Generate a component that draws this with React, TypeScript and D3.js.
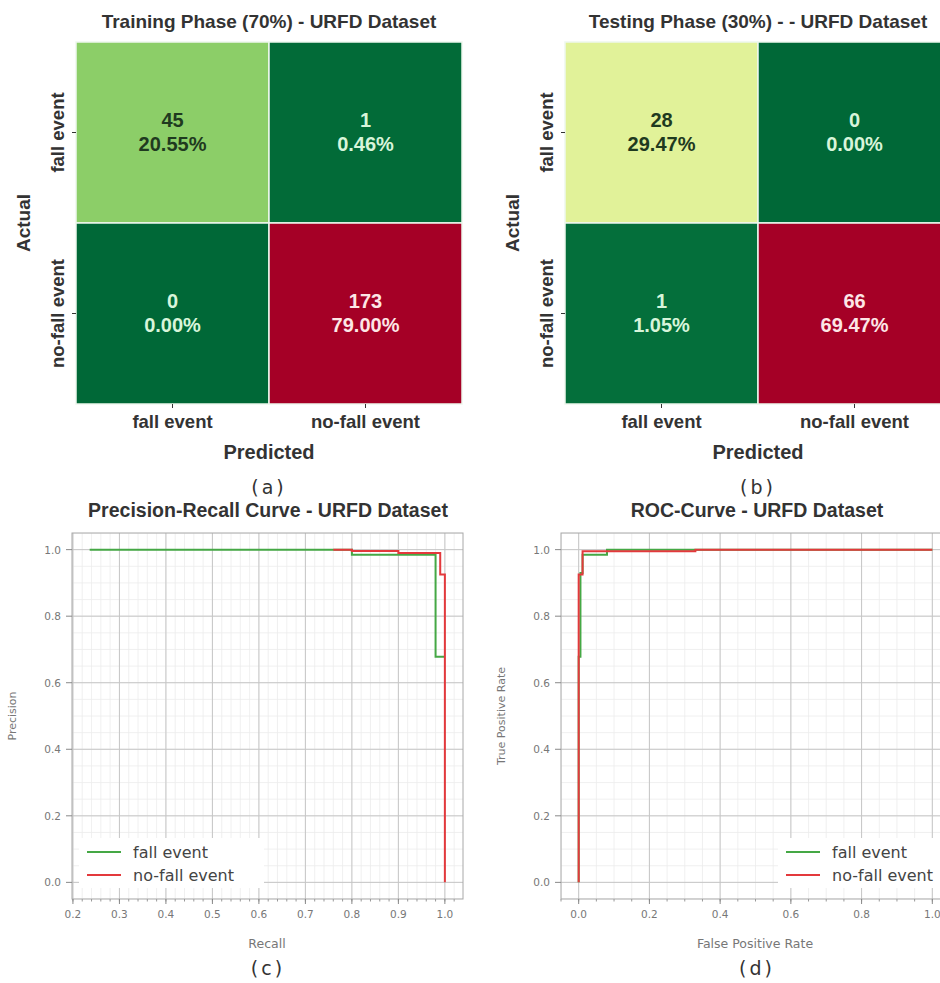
import React from "react";
import * as d3 from "d3";

// confusion matrices (rows = actual, cols = predicted)
const classLabels = ["fall event", "no-fall event"];
const trainMatrix = [[45, 1], [0, 173]];
const testMatrix = [[28, 0], [1, 66]];

// precision-recall curve points
const prRecallFall = [0.236, 0.8, 0.8, 0.98, 0.98, 1.0];
const prPrecisionFall = [1.0, 1.0, 0.985, 0.985, 0.678, 0.678];
const prRecallNoFall = [0.76, 0.8, 0.8, 0.9, 0.9, 0.99, 0.99, 1.0, 1.0];
const prPrecisionNoFall = [1.0, 1.0, 0.996, 0.996, 0.99, 0.99, 0.925, 0.925, 0.0];

// roc curve points
const rocFprFall = [0, 0, 0.005, 0.005, 0.011, 0.011, 0.08, 0.08, 1.0];
const rocTprFall = [0, 0.678, 0.678, 0.93, 0.93, 0.985, 0.985, 1.0, 1.0];
const rocFprNoFall = [0, 0, 0.011, 0.011, 0.33, 0.33, 1.0];
const rocTprNoFall = [0, 0.925, 0.925, 0.995, 0.995, 1.0, 1.0];

const prXTicks = [0.2, 0.3, 0.4, 0.5, 0.6, 0.7, 0.8, 0.9, 1.0];
const rateTicks = [0.0, 0.2, 0.4, 0.6, 0.8, 1.0];

const GREEN = "#45a845";
const RED = "#e3393c";
const BOLD = "'Liberation Sans', Arial, sans-serif";
const PLAIN = "'DejaVu Sans', sans-serif";

function Heatmap({ matrix, x0, x1, y0, y1, title, tag }) {
  const total = d3.sum(matrix.flat());
  const max = d3.max(matrix.flat());
  const color = d3.scaleSequential((t) => d3.interpolateRdYlGn(1 - t)).domain([0, max]);
  const xs = d3.scaleBand().domain(classLabels).range([x0, x1]);
  const ys = d3.scaleBand().domain(classLabels).range([y0, y1]);
  const cx = (x0 + x1) / 2;
  return (
    <g>
      <text x={cx} y={28} textAnchor="middle" fontFamily={BOLD} fontWeight="bold" fontSize={19} fill="#333">{title}</text>
      {matrix.map((row, i) =>
        row.map((v, j) => {
          const fc = color(v);
          const lum = d3.hsl(fc).l;
          const txt = lum > 0.5 ? "#1f3a1f" : (v / max > 0.5 ? "#fde6e6" : "#d8f5da");
          const mx = xs(classLabels[j]) + xs.bandwidth() / 2;
          const my = ys(classLabels[i]) + ys.bandwidth() / 2;
          return (
            <g key={i + "-" + j}>
              <rect x={xs(classLabels[j])} y={ys(classLabels[i])} width={xs.bandwidth()} height={ys.bandwidth()}
                fill={fc} stroke="#eef8ee" strokeWidth={1.5} />
              <text x={mx} y={my - 6} textAnchor="middle" fontFamily={BOLD} fontWeight="bold" fontSize={20} fill={txt}>{v}</text>
              <text x={mx} y={my + 18} textAnchor="middle" fontFamily={BOLD} fontWeight="bold" fontSize={20} fill={txt}>
                {((v / total) * 100).toFixed(2) + "%"}
              </text>
            </g>
          );
        })
      )}
      {classLabels.map((c) => (
        <g key={c}>
          <line x1={xs(c) + xs.bandwidth() / 2} x2={xs(c) + xs.bandwidth() / 2} y1={y1} y2={y1 + 4} stroke="#333" />
          <text x={xs(c) + xs.bandwidth() / 2} y={428} textAnchor="middle" fontFamily={BOLD} fontWeight="bold" fontSize={18.5} fill="#333">{c}</text>
          <line x1={x0 - 4} x2={x0} y1={ys(c) + ys.bandwidth() / 2} y2={ys(c) + ys.bandwidth() / 2} stroke="#333" />
          <text transform={`translate(${x0 - 12},${ys(c) + ys.bandwidth() / 2}) rotate(-90)`} textAnchor="middle"
            fontFamily={BOLD} fontWeight="bold" fontSize={18.5} fill="#333">{c}</text>
        </g>
      ))}
      <text x={cx} y={459} textAnchor="middle" fontFamily={BOLD} fontWeight="bold" fontSize={20} fill="#333">Predicted</text>
      <text transform={`translate(${x0 - 46},${(y0 + y1) / 2}) rotate(-90)`} textAnchor="middle"
        fontFamily={BOLD} fontWeight="bold" fontSize={19} fill="#333">Actual</text>
      <text x={cx} y={494} textAnchor="middle" fontFamily={PLAIN} fontSize={19} letterSpacing={3} fill="#333">{tag}</text>
    </g>
  );
}

function CurvePlot({ left, right, xDomain, xTicks, xMinor, title, xLabel, yLabel, tag, series, legendX }) {
  const top = 533, bottom = 899;
  const x = d3.scaleLinear().domain(xDomain).range([left, right]);
  const y = d3.scaleLinear().domain([-0.05, 1.05]).range([bottom, top]);
  const cx = (left + right) / 2;
  const xm = d3.range(Math.ceil(xDomain[0] / xMinor), Math.floor(xDomain[1] / xMinor) + 1).map((k) => k * xMinor);
  const ym = d3.range(-1, 22).map((k) => k * 0.05);
  const line = d3.line().x((d) => x(d[0])).y((d) => y(d[1]));
  const fmt = d3.format(".1f");
  return (
    <g>
      <defs>
        <clipPath id={"clip" + left}><rect x={left} y={top} width={right - left} height={bottom - top} /></clipPath>
      </defs>
      <text x={cx > 600 ? 757 : 268} y={517} textAnchor="middle" fontFamily={BOLD} fontWeight="bold" fontSize={19.5} fill="#333">{title}</text>
      <rect x={left} y={top} width={right - left} height={bottom - top} fill="#fff" />
      <g clipPath={`url(#clip${left})`}>
        {xm.map((v) => <line key={"xm" + v} x1={x(v)} x2={x(v)} y1={top} y2={bottom} stroke="#ececec" strokeWidth={0.8} />)}
        {ym.map((v) => <line key={"ym" + v} x1={left} x2={right} y1={y(v)} y2={y(v)} stroke="#ececec" strokeWidth={0.8} />)}
        {xTicks.map((v) => <line key={"xg" + v} x1={x(v)} x2={x(v)} y1={top} y2={bottom} stroke="#c6c6c6" strokeWidth={1} />)}
        {rateTicks.map((v) => <line key={"yg" + v} x1={left} x2={right} y1={y(v)} y2={y(v)} stroke="#c6c6c6" strokeWidth={1} />)}
        {series.map((s) => (
          <path key={s.name} d={line(d3.zip(s.xs, s.ys))} fill="none" stroke={s.color} strokeWidth={2} />
        ))}
      </g>
      <rect x={left} y={top} width={right - left} height={bottom - top} fill="none" stroke="#a8a8a8" strokeWidth={1} />
      {xm.map((v) => <line key={"xt" + v} x1={x(v)} x2={x(v)} y1={bottom} y2={bottom + 2.5} stroke="#999" />)}
      {xTicks.map((v) => (
        <g key={"xl" + v}>
          <line x1={x(v)} x2={x(v)} y1={bottom} y2={bottom + 5} stroke="#888" />
          <text x={x(v)} y={918} textAnchor="middle" fontFamily={PLAIN} fontSize={10.5} fill="#777">{fmt(v)}</text>
        </g>
      ))}
      {rateTicks.map((v) => (
        <g key={"yl" + v}>
          <line x1={left - 6} x2={left} y1={y(v)} y2={y(v)} stroke="#888" />
          <text x={left - 11} y={y(v) + 4} textAnchor="end" fontFamily={PLAIN} fontSize={10.5} fill="#777">{fmt(v)}</text>
        </g>
      ))}
      <text x={cx > 600 ? 755 : 267} y={948} textAnchor="middle" fontFamily={PLAIN} fontSize={12.5} fill="#777">{xLabel}</text>
      <text transform={`translate(${left - 56},${(top + bottom) / 2}) rotate(-90)`} textAnchor="middle"
        fontFamily={PLAIN} fontSize={11} fill="#777">{yLabel}</text>
      <rect x={legendX - 8} y={838} width={185} height={50} fill="#fff" />
      {series.map((s, i) => (
        <g key={"lg" + s.name}>
          <line x1={legendX} x2={legendX + 34} y1={852 + i * 23} y2={852 + i * 23} stroke={s.color} strokeWidth={2} />
          <text x={legendX + 46} y={858 + i * 23} fontFamily={PLAIN} fontSize={16} fill="#444">{s.name}</text>
        </g>
      ))}
      <text x={cx > 600 ? 757 : 268} y={975} textAnchor="middle" fontFamily={PLAIN} fontSize={19} letterSpacing={3} fill="#333">{tag}</text>
    </g>
  );
}

export default function App() {
  const prSeries = [
    { name: "fall event", color: GREEN, xs: prRecallFall, ys: prPrecisionFall },
    { name: "no-fall event", color: RED, xs: prRecallNoFall, ys: prPrecisionNoFall },
  ];
  const rocSeries = [
    { name: "fall event", color: GREEN, xs: rocFprFall, ys: rocTprFall },
    { name: "no-fall event", color: RED, xs: rocFprNoFall, ys: rocTprNoFall },
  ];
  return (
    <svg width={940} height={983} style={{ position: "absolute", left: 0, top: 0, background: "#fff" }}>
      <rect width={940} height={983} fill="#fff" />
      <Heatmap matrix={trainMatrix} x0={76} x1={462} y0={42} y1={404} title="Training Phase (70%) - URFD Dataset" tag="(a)" />
      <Heatmap matrix={testMatrix} x0={565} x1={951} y0={42} y1={404} title="Testing Phase (30%) -  - URFD Dataset" tag="(b)" />
      <CurvePlot left={72} right={463} xDomain={[0.198, 1.039]} xTicks={prXTicks} xMinor={0.02}
        title="Precision-Recall Curve - URFD Dataset" xLabel="Recall" yLabel="Precision" tag="(c)"
        series={prSeries} legendX={87} />
      <CurvePlot left={561} right={950} xDomain={[-0.05, 1.05]} xTicks={rateTicks} xMinor={0.05}
        title="ROC-Curve - URFD Dataset" xLabel="False Positive Rate" yLabel="True Positive Rate" tag="(d)"
        series={rocSeries} legendX={786} />
    </svg>
  );
}
